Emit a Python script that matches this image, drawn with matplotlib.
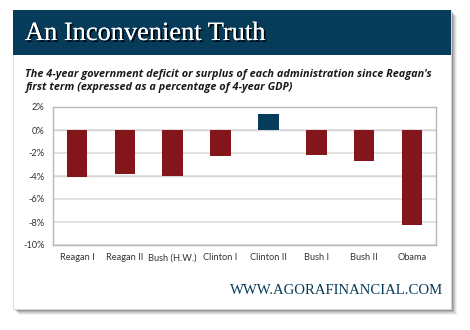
import matplotlib
matplotlib.use("Agg")
import matplotlib.pyplot as plt
import matplotlib.patches as patches
import matplotlib.patheffects as pe
import numpy as np

# Data
administrations = ["Reagan I", "Reagan II", "Bush (H.W.)", "Clinton I",
                   "Clinton II", "Bush I", "Bush II", "Obama"]
balance_pct = [-4.1, -3.8, -4.0, -2.3, 1.4, -2.2, -2.7, -8.3]
y_ticks = [2, 0, -2, -4, -6, -8, -10]

RED = "#84161b"
BLUE = "#073b5a"
W, H = 470, 330

fig = plt.figure(figsize=(W / 100, H / 100), dpi=100)
fig.patch.set_facecolor("white")

# background canvas in pixel coordinates
bg = fig.add_axes([0, 0, 1, 1])
bg.set_xlim(0, W)
bg.set_ylim(H, 0)
bg.axis("off")

# soft drop shadow
for i, a in enumerate([0.05, 0.07, 0.09, 0.12, 0.16]):
    off = 6 - i
    bg.add_patch(patches.Rectangle((13 + off, 10 + off), 438, 299, facecolor="black",
                                   edgecolor="none", alpha=a, zorder=1))
# card
bg.add_patch(patches.Rectangle((13, 10), 438, 299, facecolor="white",
                               edgecolor="#d8d8d8", linewidth=0.6, zorder=2))
# header band
bg.add_patch(patches.Rectangle((13, 10), 438, 45, facecolor=BLUE, edgecolor="none", zorder=3))
bg.text(25, 34, "An Inconvenient Truth", fontsize=19, family="Liberation Serif",
        color="white", va="center", ha="left", zorder=4,
        path_effects=[pe.withSimplePatchShadow(offset=(1.3, -1.3), shadow_rgbFace="black", alpha=0.9),
                      pe.Normal()])

bg.text(25, 81, "The 4-year government deficit or surplus of each administration since Reagan's\n"
                "first term (expressed as a percentage of 4-year GDP)",
        fontsize=7.85, family="Open Sans", fontweight="bold", fontstyle="italic",
        color="#1a1a1a", va="center", ha="left", linespacing=1.3, zorder=4)

bg.text(443, 291, "WWW.AGORAFINANCIAL.COM", fontsize=10.6, family="Liberation Serif",
        color=BLUE, va="center", ha="right", zorder=4)

# chart axes: left 53, right 436, top 107, bottom 245 (pixels)
ax = fig.add_axes([53 / W, 1 - 245 / H, (436 - 53) / W, (245 - 107) / H])
ax.set_zorder(5)
ax.patch.set_alpha(0)

x = np.arange(len(administrations))
colors = [BLUE if v > 0 else RED for v in balance_pct]
ax.bar(x, balance_pct, width=0.43, color=colors, zorder=3)

ax.set_ylim(-10, 2)
ax.set_xlim(-0.5, len(administrations) - 0.5)
ax.set_yticks(y_ticks)
ax.set_yticklabels([f"{t}%" for t in y_ticks])
ax.set_xticks(x)
ax.set_xticklabels(administrations)
ax.tick_params(axis="both", length=0, labelsize=6.7, colors="#333333", pad=6)
for lbl in ax.get_xticklabels() + ax.get_yticklabels():
    lbl.set_family("Lato")
ax.yaxis.grid(True, color="#dcdcdc", linewidth=1.2, zorder=0)
for t in [0, -4]:
    ax.axhline(t, color="#c4c4c4", linewidth=1.0, zorder=1)
for s in ax.spines.values():
    s.set_color("#b8b8b8")
    s.set_linewidth(1.0)

fig.savefig("out.png", dpi=100)
